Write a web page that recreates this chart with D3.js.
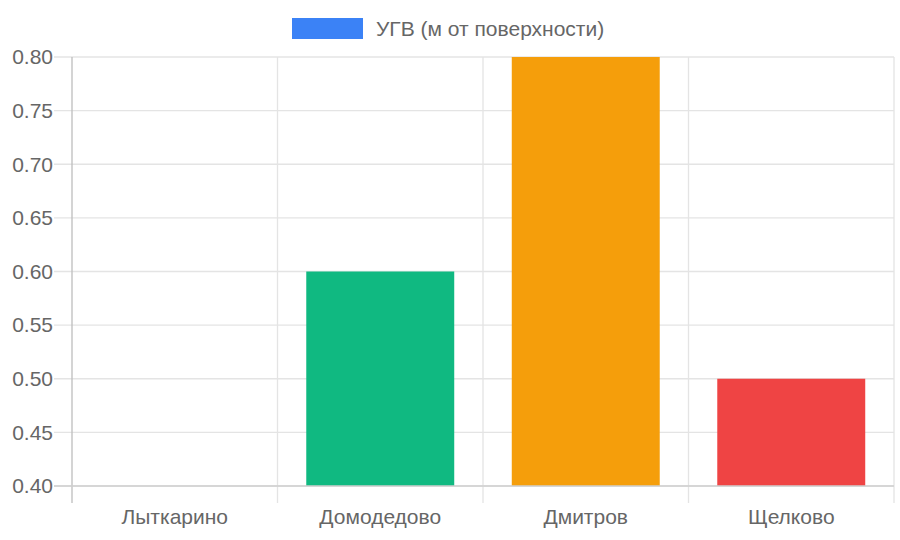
<!DOCTYPE html>
<html><head><meta charset="utf-8">
<script src="https://cdn.jsdelivr.net/npm/d3@7"></script>
<style>body{margin:0;background:#fff;}svg{display:block;}</style>
</head><body>
<svg id="c" width="900" height="540"></svg>
<script>
const categories = ["Лыткарино","Домодедово","Дмитров","Щелково"];
const values = [0.30, 0.60, 0.80, 0.50];
const colors = ["#3b82f6","#10b981","#f59e0b","#ef4444"];
const seriesName = "УГВ (м от поверхности)";
const yTicks = [0.40,0.45,0.50,0.55,0.60,0.65,0.70,0.75,0.80];

(function(){
const svg = d3.select("#c");
const font = "'Liberation Sans', Arial, sans-serif";
const fs = 21;
const pL = 72, pR = 894, pT = 57, pB = 486;
const x = d3.scaleBand().domain(categories).range([pL, pR]).paddingInner(0).paddingOuter(0);
const y = d3.scaleLinear().domain([0.4, 0.8]).range([pB, pT]);

// horizontal grid
svg.append("g").selectAll("line").data(yTicks).join("line")
  .attr("x1", 54).attr("x2", pR).attr("y1", d => y(d)).attr("y2", d => y(d))
  .attr("stroke", "#e4e4e4").attr("stroke-width", 1.3);
// vertical grid
const vlines = categories.map(c => x(c)).concat([pR]).slice(1);
svg.append("g").selectAll("line").data(vlines).join("line")
  .attr("x1", d => d).attr("x2", d => d).attr("y1", pT).attr("y2", 503)
  .attr("stroke", "#e4e4e4").attr("stroke-width", 1.3);

// bars
svg.append("clipPath").attr("id", "plotclip").append("rect")
  .attr("x", pL).attr("y", pT).attr("width", pR-pL).attr("height", pB-pT);
const bw = x.bandwidth() * 0.72;
svg.append("g").attr("clip-path", "url(#plotclip)").selectAll("rect").data(values).join("rect")
  .attr("x", (d,i) => x(categories[i]) + (x.bandwidth()-bw)/2)
  .attr("width", bw)
  .attr("y", d => y(Math.max(d, 0.4)))
  .attr("height", d => Math.max(0, y(0.4) - y(Math.max(d,0.4))))
  .attr("fill", (d,i) => colors[i]);

// axis lines
svg.append("line").attr("x1", pL).attr("x2", pL).attr("y1", pT).attr("y2", 503)
  .attr("stroke", "#bdbdbd").attr("stroke-width", 1.3);
svg.append("line").attr("x1", 54).attr("x2", pR).attr("y1", pB).attr("y2", pB)
  .attr("stroke", "#cfcfcf").attr("stroke-width", 1.3);

// y labels
svg.append("g").selectAll("text").data(yTicks).join("text")
  .attr("x", 53).attr("y", d => y(d)).attr("dy", "0.35em")
  .attr("text-anchor", "end").attr("font-family", font).attr("font-size", fs)
  .attr("fill", "#666").text(d => d.toFixed(2));

// x labels
svg.append("g").selectAll("text").data(categories).join("text")
  .attr("x", d => x(d) + x.bandwidth()/2).attr("y", 517).attr("dy", "0.35em")
  .attr("text-anchor", "middle").attr("font-family", font).attr("font-size", fs)
  .attr("fill", "#666").text(d => d);

// legend
svg.append("rect").attr("x", 292).attr("y", 18).attr("width", 71).attr("height", 21).attr("fill", colors[0]);
svg.append("text").attr("x", 376).attr("y", 29).attr("dy", "0.35em")
  .attr("font-family", font).attr("font-size", fs).attr("fill", "#666").text(seriesName);
})();
</script>
</body></html>
